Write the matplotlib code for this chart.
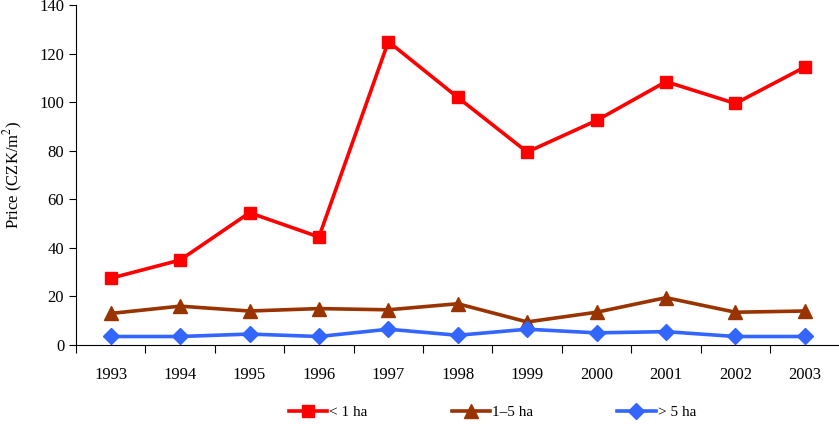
import matplotlib
matplotlib.use("Agg")
import matplotlib.pyplot as plt
import numpy as np

plt.rcParams['font.family'] = ['Liberation Serif', 'DejaVu Serif']
plt.rcParams['mathtext.fontset'] = 'stix'

years = ['1993', '1994', '1995', '1996', '1997', '1998', '1999', '2000', '2001', '2002', '2003']
small = [27.5, 35, 54.5, 44.5, 125, 102, 79.5, 92.5, 108.5, 99.5, 114.5]
medium = [13, 16, 14, 15, 14.5, 17, 9.5, 13.5, 19.5, 13.5, 14]
large = [3.5, 3.5, 4.5, 3.5, 6.5, 4, 6.5, 5, 5.5, 3.5, 3.5]

x = np.arange(len(years))

fig = plt.figure(figsize=(8.39, 4.32), dpi=100)
ax = fig.add_axes([0.0906, 0.2014, 0.91, 0.7866])

ax.plot(x, small, color='#FF0000', lw=2.6, marker='s', ms=9, label='< 1 ha')
ax.plot(x, medium, color='#993300', lw=2.6, marker='^', ms=10, label='1–5 ha')
ax.plot(x, large, color='#3366FF', lw=2.6, marker='D', ms=8, label='> 5 ha')

ax.set_xlim(-0.5, len(years) - 0.5)
ax.set_ylim(0, 140)
ax.set_yticks(np.arange(0, 141, 20))
ax.set_xticks(np.arange(-0.5, len(years), 1))
ax.set_xticklabels([])
ax.set_xticks(x, minor=True)
ax.set_xticklabels(years, minor=True)
ax.tick_params(axis='x', which='major', length=6, direction='out')
ax.tick_params(axis='x', which='minor', length=0, pad=16, labelsize=12)
ax.tick_params(axis='y', length=5, labelsize=12)

ax.spines['top'].set_visible(False)
ax.spines['right'].set_visible(False)

ax.set_ylabel(r'Price (CZK/m$^2$)', fontsize=12, labelpad=10)

fig.legend(loc='center', bbox_to_anchor=(0.587, 0.046), ncol=3, frameon=False,
           fontsize=11, handlelength=2.5, handletextpad=0.15, columnspacing=5.5)

fig.savefig('out.png', dpi=100)
